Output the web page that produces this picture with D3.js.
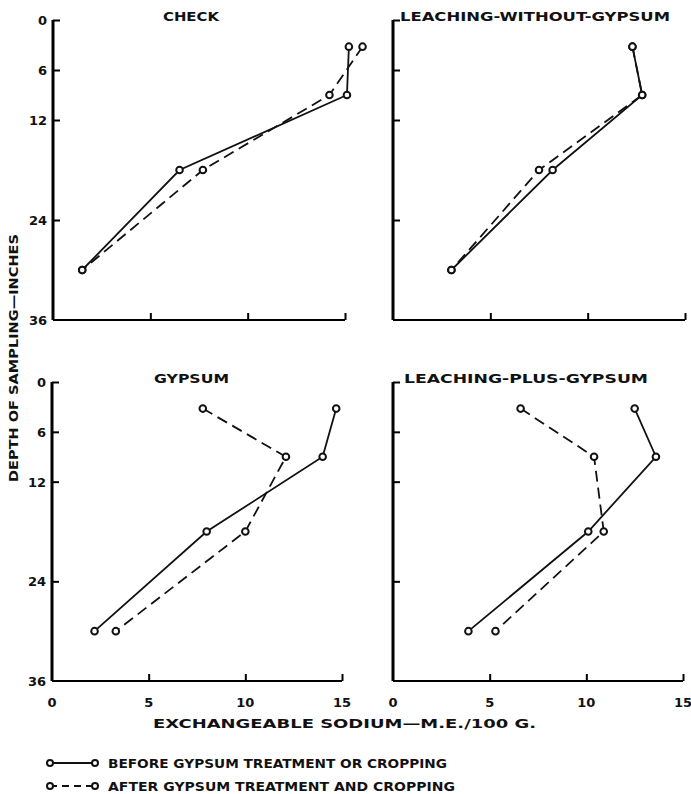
<!DOCTYPE html>
<html>
<head>
<meta charset="utf-8">
<script src="https://cdn.jsdelivr.net/npm/d3@7"></script>
<style>
  html, body { margin: 0; padding: 0; background: #fff; }
  svg { display: block; }
  text { font-family: "DejaVu Sans", sans-serif; font-weight: bold; fill: #111; }
</style>
</head>
<body>
<script>
// depth of sampling (inches) for the four samples
var depths = [3.2, 9, 18, 30];

var checkBefore   = [15.2, 15.1, 6.5, 1.5];
var checkAfter    = [15.9, 14.2, 7.7, 1.5];
var withoutBefore = [12.3, 12.8, 8.2, 3.0];
var withoutAfter  = [12.3, 12.8, 7.5, 3.0];
var gypsumBefore  = [14.7, 14.0, 8.0, 2.2];
var gypsumAfter   = [7.8, 12.1, 10.0, 3.3];
var plusBefore    = [12.5, 13.6, 10.1, 3.9];
var plusAfter     = [6.6, 10.4, 10.9, 5.3];

var yTicks = [0, 6, 12, 24, 36];
var xTicks = [0, 5, 10, 15];

var legendLabels = ["BEFORE  GYPSUM  TREATMENT  OR  CROPPING",
                    "AFTER  GYPSUM  TREATMENT  AND  CROPPING"];

var panels = [
    { title: "CHECK", before: checkBefore, after: checkAfter,
      x: [53, 345], y: [20, 320], left: true, bottom: false, titleX: 163, titleW: 56 },
    { title: "LEACHING-WITHOUT-GYPSUM", before: withoutBefore, after: withoutAfter,
      x: [393, 685], y: [20, 320], left: false, bottom: false, titleX: 400, titleW: 270 },
    { title: "GYPSUM", before: gypsumBefore, after: gypsumAfter,
      x: [52, 342], y: [382, 681], left: true, bottom: true, titleX: 154, titleW: 75 },
    { title: "LEACHING-PLUS-GYPSUM", before: plusBefore, after: plusAfter,
      x: [393, 683], y: [382, 681], left: false, bottom: true, titleX: 404, titleW: 244 }
];

var svg = d3.select("body").append("svg")
    .attr("width", 691)
    .attr("height", 794);

var dash = "11,6";

panels.forEach((p) => {
    var x = d3.scaleLinear().domain([0, 15]).range(p.x);
    var y = d3.scaleLinear().domain([0, 36]).range(p.y);
    var g = svg.append("g");

    // axes: thick left spine, thinner bottom
    var yAxis = g.append("g")
        .attr("transform", `translate(${p.x[0]},0)`)
        .call(d3.axisRight(y).tickValues(yTicks).tickSize(7).tickFormat(""));
    yAxis.select(".domain").attr("stroke-width", 3).attr("d", `M0,${p.y[0]}V${p.y[1]}`);
    yAxis.selectAll(".tick line").attr("stroke-width", 2);
    yAxis.selectAll(".tick").filter((d) => d === 36).remove();

    var xAxis = g.append("g")
        .attr("transform", `translate(0,${p.y[1]})`)
        .call(d3.axisTop(x).tickValues([5, 10, 15]).tickSize(7).tickFormat(""));
    xAxis.select(".domain").attr("stroke-width", 2).attr("d", `M${p.x[0]},0H${p.x[1]}`);
    xAxis.selectAll(".tick line").attr("stroke-width", 2);

    if (p.left) {
        g.selectAll(".ylab")
            .data(yTicks)
            .enter().append("text")
            .attr("x", p.x[0] - 6)
            .attr("y", (d) => y(d) + 5)
            .attr("text-anchor", "end")
            .attr("font-size", 13)
            .text((d) => d);
    }
    if (p.bottom) {
        g.selectAll(".xlab")
            .data(xTicks)
            .enter().append("text")
            .attr("x", (d) => x(d))
            .attr("y", p.y[1] + 26)
            .attr("text-anchor", "middle")
            .attr("font-size", 13)
            .text((d) => d);
    }

    g.append("text")
        .attr("x", p.titleX)
        .attr("y", p.y[0] + 1)
        .attr("font-size", 13)
        .attr("textLength", p.titleW)
        .attr("lengthAdjust", "spacingAndGlyphs")
        .text(p.title);

    var line = d3.line()
        .x((d) => x(d[0]))
        .y((d) => y(d[1]));

    [[p.before, null], [p.after, dash]].forEach(([vals, da]) => {
        var pts = vals.map((v, i) => [v, depths[i]]);
        g.append("path")
            .attr("d", line(pts))
            .attr("fill", "none")
            .attr("stroke", "#111")
            .attr("stroke-width", 1.8)
            .attr("stroke-dasharray", da);
        g.selectAll(null)
            .data(pts)
            .enter().append("circle")
            .attr("cx", (d) => x(d[0]))
            .attr("cy", (d) => y(d[1]))
            .attr("r", 3.3)
            .attr("fill", "#fff")
            .attr("stroke", "#111")
            .attr("stroke-width", 2);
    });
});

// axis titles
svg.append("text")
    .attr("x", 153)
    .attr("y", 728)
    .attr("font-size", 13)
    .attr("textLength", 383)
    .attr("lengthAdjust", "spacingAndGlyphs")
    .text("EXCHANGEABLE  SODIUM\u2014M.E./100 G.");

svg.append("text")
    .attr("transform", "translate(18,482) rotate(-90)")
    .attr("font-size", 13)
    .attr("textLength", 248)
    .attr("lengthAdjust", "spacingAndGlyphs")
    .text("DEPTH  OF  SAMPLING\u2014INCHES");

// legend
var legend = svg.append("g");
legendLabels.forEach((lab, i) => {
    var ly = 763 + i * 23;
    legend.append("line")
        .attr("x1", 50).attr("x2", 95)
        .attr("y1", ly).attr("y2", ly)
        .attr("stroke", "#111")
        .attr("stroke-width", 1.8)
        .attr("stroke-dasharray", i ? "7,5" : null);
    [50, 95].forEach((cx) => {
        legend.append("circle")
            .attr("cx", cx).attr("cy", ly).attr("r", 3)
            .attr("fill", "#fff").attr("stroke", "#111").attr("stroke-width", 2);
    });
    legend.append("text")
        .attr("x", 108)
        .attr("y", ly + 5)
        .attr("font-size", 12)
        .attr("textLength", i ? 347 : 339)
        .attr("lengthAdjust", "spacingAndGlyphs")
        .text(lab);
});
</script>
</body>
</html>
